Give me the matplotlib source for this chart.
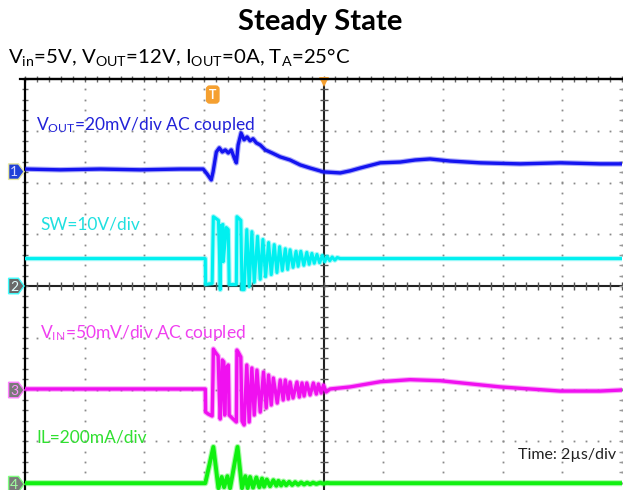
import numpy as np
import matplotlib
matplotlib.use("Agg")
import matplotlib.pyplot as plt
from matplotlib.patches import Polygon

plt.rcParams['font.family'] = ['Lato', 'DejaVu Sans']
plt.rcParams['mathtext.fontset'] = 'custom'
plt.rcParams['mathtext.rm'] = 'Lato'
plt.rcParams['mathtext.it'] = 'Lato:italic'
plt.rcParams['mathtext.bf'] = 'Lato:bold'

# ---------------- data (time in us, physical units) ----------------
vout_t = [-10, -8.82, -7.48, -6.14, -4.80, -4.03, -3.90, -3.76, -3.70, -3.59, -3.49, -3.39,
          -3.29, -3.19, -3.09, -2.99, -2.92, -2.86, -2.76, -2.66, -2.56, -2.46, -2.36, -2.25,
          -2.12, -1.95, -1.72, -1.45, -1.12, -0.78, -0.45, 0.0, 0.56, 0.89, 1.23, 1.90, 2.57,
          3.07, 3.57, 4.24, 5.25, 6.59, 7.93, 9.27, 10]
vout_mv = [1.0, 0.7, 1.0, 0.7, 1.0, 1.0, -0.9, -3.2, -0.1, 7.6, 9.2, 7.6,
           8.4, 7.2, 8.4, 5.3, 3.4, 10.3, 14.9, 12.3, 13.4, 11.9, 12.7, 11.1,
           10.3, 8.4, 7.2, 5.7, 4.5, 2.6, 1.4, -0.1, -0.5, 0.3, 1.4, 3.4, 3.7,
           4.5, 4.9, 4.1, 3.4, 3.0, 3.4, 3.0, 3.0]

sw_t = [-10, -3.96, -3.95, -3.73, -3.71, -3.69, -3.52, -3.49, -3.46, -3.43, -3.37, -3.36,
        -3.29, -3.26, -3.19, -3.16, -2.92, -2.90, -2.77, -2.73,
        -2.66, -2.57, -2.49, -2.40, -2.32, -2.21, -2.12, -2.03, -1.94, -1.84, -1.75, -1.65,
        -1.56, -1.47, -1.38, -1.28, -1.20, -1.12, -1.02, -0.92, -0.85, -0.76, -0.66, -0.56,
        -0.48, -0.39, -0.31, -0.22, -0.13, -0.04, 0.04, 0.12, 0.21, 0.29, 0.38, 0.46, 0.56, 10]
sw_v = [5.3, 5.3, 0.3, 0.5, 7.0, 13.4, 12.7, 7.0, -0.7, 11.7, 11.9, 4.7,
        9.0, 11.3, 10.9, 0.3, 0.3, 13.4, 12.7, -0.7,
        -0.7, 10.9, -0.1, 10.5, 0.7, 9.6, 1.3, 9.0, 1.8, 8.4, 2.2, 8.0,
        2.6, 7.6, 3.0, 7.2, 3.2, 7.0, 3.6, 6.7, 3.8, 6.7, 4.0, 6.5,
        4.2, 6.3, 4.4, 6.1, 4.5, 5.9, 4.7, 5.7, 4.9, 5.6, 5.0, 5.5, 5.3, 5.3]

vin_t = [-10, -3.96, -3.95, -3.86, -3.73, -3.705, -3.69, -3.63, -3.53, -3.49, -3.46, -3.43,
         -3.39, -3.34, -3.31, -3.26, -3.19, -3.16, -3.06, -2.92, -2.90, -2.86, -2.77, -2.73,
         -2.66, -2.57, -2.49, -2.40, -2.32, -2.23, -2.12, -2.01, -1.92, -1.84, -1.75, -1.68,
         -1.55, -1.45, -1.35, -1.28, -1.18, -1.12, -1.02, -0.89, -0.81, -0.72, -0.65, -0.56,
         -0.45, -0.34, -0.24, -0.17, -0.08, 0.0, 0.09, 0.22, 0.56, 0.89, 1.90, 2.90, 3.91,
         4.91, 5.92, 6.92, 7.93, 9.27, 10]
vin_mv = [1.0, 1.0, -21.3, -23.2, -25.1, 9.7, 39.6, 36.7, 32.9, -4.8, -28.0, -9.7,
          29.0, 27.1, -24.2, 21.3, 24.2, -24.2, -27.1, -30.9, 38.6, 36.7, 31.9, -30.0,
          -33.8, 24.2, -30.9, 21.3, -24.2, 19.3, -21.3, 17.4, -17.4, 14.5, -14.5, 11.6,
          -12.6, 9.7, -9.7, 9.7, -8.7, 7.7, -7.7, 7.7, -6.8, 6.8, -5.8, 6.8,
          -4.8, 6.8, -3.9, 5.8, -2.9, 4.8, -1.9, 1.0, 2.0, 3.0, 8.0, 10.0, 9.0,
          6.0, 3.0, 1.0, -1.0, -1.0, 0.0]

il_t = [-10, -3.96, -3.69, -3.52, -3.41, -3.33, -3.22, -3.13, -2.88, -2.73,
        -2.62, -2.54, -2.46, -2.36, -2.25, -2.15, -2.06, -1.99, -1.90, -1.79, -1.68, -1.58,
        -1.51, -1.42, -1.34, -1.25, -1.15, -1.05, -0.95, -0.85, -0.75, -0.65, -0.55, -0.45,
        -0.35, -0.24, -0.11, 0.0, 0.12, 0.22, 10]
il_ma = [4, 4, 144, -15.5, 28, -11.6, 31, -15.5, 144, -15.5,
         31, -15, 28, -13.5, 26, -11.6, 22, -9.7, 18, -7.7, 15.5, -5.8,
         13, -5, 10.4, -4, 9, -3, 8, -2, 7, -1, 6, 0,
         6, 1, 6, 2, 5, 4, 4]

channel_names = ["1", "2", "3", "4"]
vout_scale, sw_scale, vin_scale, il_scale = 20.0, 10.0, 50.0, 200.0   # per division
vout_off, sw_off, vin_off, il_off = 2.21, 0.0, -2.01, -3.83             # ground marker (div)

# ---------------- figure ----------------
W, H = 623, 490
fig = plt.figure(figsize=(W / 100, H / 100), dpi=100)
fig.patch.set_facecolor('white')

px_left, px_top, px_w, px_div_y = 25, 79, 597, 51.75
ax = fig.add_axes([px_left / W, (H - (px_top + 8 * px_div_y)) / H, px_w / W, 8 * px_div_y / H])
ax.set_xlim(-10, 10)
ax.set_ylim(-4, 4)
ax.set_facecolor('white')
for s in ['right', 'bottom']:
    ax.spines[s].set_visible(False)
for s in ['left', 'top']:
    ax.spines[s].set_linewidth(1.6)
    ax.spines[s].set_color('black')
ax.set_xticks([])
ax.set_yticks([])

grid_c = '#8a8a8a'
ys_dots = np.arange(-4, 4.01, 0.2)
for xv in [-8, -6, -4, -2, 2, 4, 6, 8, 10]:
    ax.plot(np.full_like(ys_dots, xv), ys_dots, ls='none', marker='s', ms=1.3,
            mew=0, color=grid_c, clip_on=False, zorder=1)
xs_dots = np.arange(-10, 10.01, 0.4)
for yv in [-3, -2, -1, 1, 2, 3]:
    ax.plot(xs_dots, np.full_like(xs_dots, yv), ls='none', marker='s', ms=1.3,
            mew=0, color=grid_c, clip_on=False, zorder=1)
ax.axvline(0, color='#222222', lw=1.5, zorder=2)
ax.axhline(0, color='#222222', lw=1.5, zorder=2)
ax.plot(xs_dots, np.zeros_like(xs_dots), ls='none', marker='|', ms=6, mew=1.0,
        color='#555555', zorder=2)
ax.plot(np.zeros_like(ys_dots), ys_dots, ls='none', marker='_', ms=6, mew=1.0,
        color='#555555', zorder=2)
ax.plot(np.full_like(ys_dots, -10), ys_dots, ls='none', marker='_', ms=5, mew=1.0,
        color='#666666', clip_on=False, zorder=2)
ax.plot(xs_dots, np.full_like(xs_dots, 4), ls='none', marker='|', ms=5, mew=1.0,
        color='#666666', clip_on=False, zorder=2)
ax.plot(np.full_like(ys_dots, 10), ys_dots, ls='none', marker='_', ms=4, mew=1.0,
        color='#999999', clip_on=False, zorder=2)

# ---------------- traces ----------------
def trace(t, v, scale, off, color, lw):
    y = np.asarray(v) / scale + off
    ax.plot(t, y, color=color, lw=lw + 1.6, alpha=0.35, solid_joinstyle='round', zorder=3)
    ax.plot(t, y, color=color, lw=lw, solid_joinstyle='round', zorder=4)

trace(vout_t, vout_mv, vout_scale, vout_off, '#1414f0', 2.4)
trace(sw_t, sw_v, sw_scale, sw_off, '#00f0f0', 2.2)
trace(vin_t, vin_mv, vin_scale, vin_off, '#f010f0', 2.4)
trace(il_t, il_ma, il_scale, il_off, '#10f010', 2.8)

# ---------------- channel markers ----------------
marker_fill = ['#2040d8', '#6a6a6a', '#7a7a7a', '#7a7a7a']
marker_edge = ['#e8e8a0', '#40ffff', '#ff80ff', '#80ff80']
marker_txt = ['#d8d8ff', '#e0ffff', '#ff90ff', '#a0ffa0']
offs = [vout_off, sw_off, vin_off, il_off]
x0, x1, x2, hh = -10.55, -10.22, -10.03, 0.15
for name, yo, fc, ec, tc in zip(channel_names, offs, marker_fill, marker_edge, marker_txt):
    poly = Polygon([(x0, yo - hh), (x1, yo - hh), (x2, yo), (x1, yo + hh), (x0, yo + hh)],
                   closed=True, facecolor=fc, edgecolor=ec, lw=1.0, clip_on=False, zorder=6)
    ax.add_patch(poly)
    ax.text((x0 + x1) / 2 + 0.02, yo - 0.01, name, color=tc, fontsize=10,
            ha='center', va='center', clip_on=False, zorder=7)

# trigger markers
ax.text(-3.71, 3.70, 'T', color='white', fontsize=9, fontweight='bold', ha='center',
        va='center', zorder=7,
        bbox=dict(boxstyle='round,pad=0.2,rounding_size=0.25', fc='#f5a030', ec='#f5a030'))
ax.plot([0], [3.95], marker='v', ms=7, color='#f5a030', mew=0, clip_on=False, zorder=7)

# ---------------- labels ----------------
ax.text(-9.62, 3.11, r'V$_{\mathrm{OUT}}$=20mV/div AC coupled', color='#2222d8',
        fontsize=12.5, ha='left', va='center', zorder=8)
ax.text(-9.49, 1.18, 'SW=10V/div', color='#20e0e0', fontsize=12.5, ha='left',
        va='center', zorder=8)
ax.text(-9.49, -0.91, r'V$_{\mathrm{IN}}$=50mV/div AC coupled', color='#f040f0',
        fontsize=12.5, ha='left', va='center', zorder=8)
ax.text(-9.62, -2.92, 'IL=200mA/div', color='#30e030', fontsize=12.5, ha='left',
        va='center', zorder=8)
ax.text(6.52, -3.27, 'Time: 2µs/div', color='#222222', fontsize=11.5, ha='left',
        va='center', zorder=8)

fig.text(320 / W, 1 - 22 / H, 'Steady State', fontsize=21, fontweight='bold',
         ha='center', va='center', color='black')
fig.text(8 / W, 1 - 57 / H,
         r'V$_{\mathrm{in}}$=5V, V$_{\mathrm{OUT}}$=12V, I$_{\mathrm{OUT}}$=0A, T$_{\mathrm{A}}$=25°C',
         fontsize=14.7, ha='left', va='center', color='black')
fig.add_artist(plt.Line2D([20 / W, 1], [1 - 79 / H, 1 - 79 / H], color='black', lw=1.6))

fig.savefig('out.png', dpi=100, facecolor='white')
